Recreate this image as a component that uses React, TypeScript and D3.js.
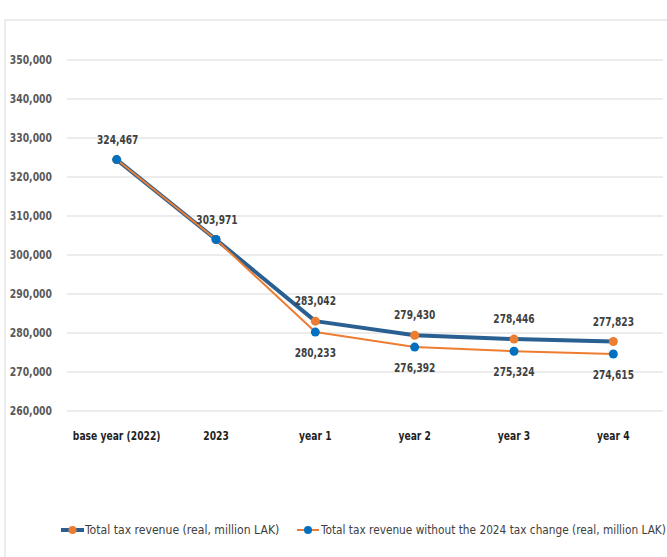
import React from "react";
import * as d3 from "d3";

const categories = ["base year (2022)", "2023", "year 1", "year 2", "year 3", "year 4"];
const totalRevenue = [324467, 303971, 283042, 279430, 278446, 277823];
const withoutChange = [324467, 303971, 280233, 276392, 275324, 274615];
const yTicks = [260000, 270000, 280000, 290000, 300000, 310000, 320000, 330000, 340000, 350000];
const seriesNames = [
  "Total tax revenue (real, million LAK)",
  "Total tax revenue without the 2024 tax change (real, million LAK)",
];

const W = 667;
const H = 557;
const FONT = "'DejaVu Sans Condensed', 'DejaVu Sans', sans-serif";
const BLUE_DARK = "#2a5f92";
const ORANGE = "#ed7d31";
const BLUE = "#0070c0";

type TProps = {
  x: number;
  y: number;
  sx: number;
  anchor?: "start" | "middle" | "end";
  size?: number;
  bold?: boolean;
  fill?: string;
  children: React.ReactNode;
};

function T({ x, y, sx, anchor = "start", size = 12, bold = false, fill = "#404040", children }: TProps) {
  return (
    <text
      transform={`translate(${x},${y}) scale(${sx},1)`}
      dy="0.35em"
      textAnchor={anchor}
      fontSize={size}
      fontWeight={bold ? "bold" : "normal"}
      fill={fill}
    >
      {children}
    </text>
  );
}

export default function App() {
  const x = d3.scaleBand<string>().domain(categories).range([67, 663]);
  const y = d3.scaleLinear().domain([260000, 350000]).range([411, 60]);
  const cx = (c: string) => (x(c) as number) + x.bandwidth() / 2;
  const fmt = d3.format(",");
  const line = d3
    .line<number>()
    .x((_, i) => cx(categories[i]))
    .y((d) => y(d));

  return (
    <svg
      width={W}
      height={H}
      style={{ position: "absolute", left: 0, top: 0, background: "#fff" }}
      fontFamily={FONT}
    >
      <rect x={5} y={20} width={W} height={H} fill="#fff" stroke="#d9d9d9" strokeWidth={1} />
      {yTicks.map((t) => (
        <g key={t}>
          <line x1={67} x2={663} y1={y(t)} y2={y(t)} stroke="#d9d9d9" strokeWidth={1} />
          <T x={52} y={y(t)} sx={0.86} anchor="end" bold fill="#595959">
            {fmt(t)}
          </T>
        </g>
      ))}
      {categories.map((c) => (
        <T key={c} x={cx(c)} y={436} sx={0.85} anchor="middle" bold fill="#1f1f1f">
          {c}
        </T>
      ))}
      <path d={line(totalRevenue) || ""} fill="none" stroke={BLUE_DARK} strokeWidth={4} strokeLinejoin="round" />
      <path d={line(withoutChange) || ""} fill="none" stroke={ORANGE} strokeWidth={2} strokeLinejoin="round" />
      {totalRevenue.map((v, i) => (
        <circle key={"a" + i} cx={cx(categories[i])} cy={y(v)} r={4.5} fill={ORANGE} />
      ))}
      {withoutChange.map((v, i) => (
        <circle key={"b" + i} cx={cx(categories[i])} cy={y(v)} r={4.5} fill={BLUE} />
      ))}
      {totalRevenue.map((v, i) => (
        <T key={"la" + i} x={cx(categories[i]) + (i < 2 ? 1 : 0)} y={y(v) - 20} sx={0.84} anchor="middle" bold>
          {fmt(v)}
        </T>
      ))}
      {withoutChange.map((v, i) =>
        i < 2 ? null : (
          <T key={"lb" + i} x={cx(categories[i])} y={y(v) + 21} sx={0.84} anchor="middle" bold>
            {fmt(v)}
          </T>
        )
      )}
      {/* legend */}
      <g transform="translate(61,530)">
        <line x1={0} x2={23} y1={0} y2={0} stroke={BLUE_DARK} strokeWidth={4} />
        <circle cx={11.5} cy={0} r={4} fill={ORANGE} />
        <T x={24} y={0} sx={0.97} size={12.5} fill="#404040">
          {seriesNames[0]}
        </T>
      </g>
      <g transform="translate(297,530)">
        <line x1={0} x2={22} y1={0} y2={0} stroke={ORANGE} strokeWidth={2} />
        <circle cx={11} cy={0} r={4} fill={BLUE} />
        <T x={24} y={0} sx={0.94} size={12.5} fill="#404040">
          {seriesNames[1]}
        </T>
      </g>
    </svg>
  );
}
